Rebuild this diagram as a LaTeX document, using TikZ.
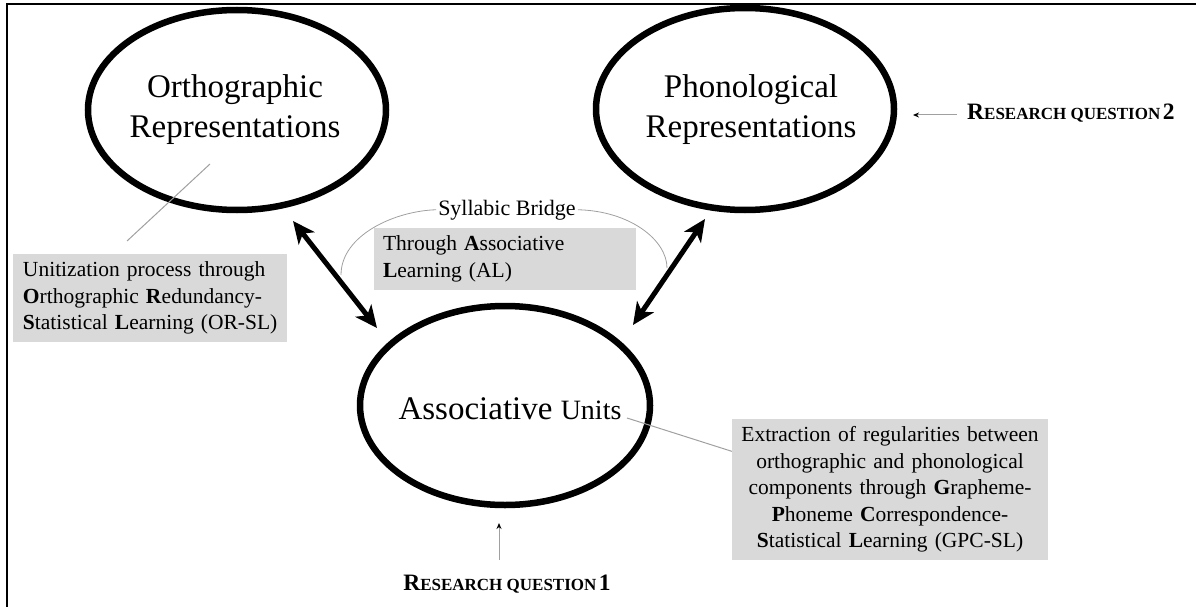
\documentclass[tikz,border=0pt]{standalone}
\usepackage{fontspec}
\setmainfont{Liberation Serif}
\usetikzlibrary{shapes.geometric,arrows.meta,calc}
\definecolor{boxgray}{RGB}{217,217,217}
\definecolor{thingray}{RGB}{160,160,160}
\tikzset{
  bigell/.style={draw=black, line width=6.5pt, ellipse, inner sep=0pt},
  elltext/.style={font=\fontsize{33}{40}\selectfont, align=center, inner sep=0pt},
  graybox/.style={fill=boxgray, inner ysep=0pt, font=\fontsize{21.5}{26.5}\selectfont},
  thickarrow/.style={line width=5pt, {Stealth[length=22pt,width=20pt,inset=6pt]}-{Stealth[length=22pt,width=20pt,inset=6pt]}},
  pointer/.style={draw=thingray, line width=1pt},
  rqarrow/.style={draw=thingray, line width=1pt, -{Stealth[length=6pt,width=5pt,black]}},
  rqtext/.style={inner sep=0pt},
}
\newcommand{\rqlabel}[1]{\textbf{{\fontsize{23.5}{26}\selectfont R}{\fontsize{17}{20}\selectfont ESEARCH QUESTION} {\fontsize{23.5}{26}\selectfont #1}}}
\begin{document}
\begin{tikzpicture}[x=1pt,y=-1pt]
\useasboundingbox (0,0) rectangle (1196,607);
% frame (top and left)
\draw[line width=2pt] (7,610) -- (7,4) -- (1200,4);

% ellipses
\node[bigell, minimum width=298pt, minimum height=200pt] (ortho) at (237,110) {};
\node[bigell, minimum width=298pt, minimum height=202pt] (phon) at (745,109) {};
\node[bigell, minimum width=290pt, minimum height=199pt] (assoc) at (505,405.5) {};

\node[elltext] (orthotext) at (235,109.5) {Orthographic\\Representations};
\node[elltext] (phontext) at (751,109.5) {Phonological\\Representations};
\node[inner sep=0pt, anchor=base] (assoctext) at (510,419) {{\fontsize{33}{40}\selectfont Associative\ }{\fontsize{28}{34}\selectfont Units}};

% gray boxes
\node[graybox, inner xsep=10pt, text width=254pt, minimum height=88pt, align=left] (orbox) at (150,298)
  {\mbox{Unitization process through}\\\mbox{\textbf{O}rthographic \textbf{R}edundancy-}\\\mbox{\textbf{S}tatistical \textbf{L}earning (OR-SL)}};
\node[graybox, inner xsep=9pt, text width=244pt, minimum height=62pt, align=left] (albox) at (505,259)
  {\mbox{Through \textbf{A}ssociative}\\\mbox{\textbf{L}earning (AL)}};
\node[graybox, inner xsep=0pt, text width=316pt, minimum height=141pt, align=center] (gpcbox) at (890,489.5)
  {\mbox{Extraction of regularities between}\\\mbox{orthographic and phonological}\\\mbox{components through \textbf{G}rapheme-}\\\mbox{\textbf{P}honeme \textbf{C}orrespondence-}\\\mbox{\textbf{S}tatistical \textbf{L}earning (GPC-SL)}};

% syllabic bridge
\node[inner xsep=2pt, inner ysep=0pt, font=\fontsize{22}{26}\selectfont, anchor=base] (sb) at (507,215) {Syllabic Bridge};
\coordinate (sbl) at (341,275);
\coordinate (sbr) at (667,268);
\draw[draw=thingray, line width=0.8pt] (sbl) .. controls (341,235) and (395,211) .. (sb.west);
\draw[draw=thingray, line width=0.8pt] (sb.east) .. controls (630,211) and (667,240) .. (sbr);

% thick double arrows
\coordinate (oa1) at (293,221);
\coordinate (oa2) at (377,328);
\coordinate (pa1) at (705,219);
\coordinate (pa2) at (633,325);
\draw[thickarrow] (oa1) -- (oa2);
\draw[thickarrow] (pa1) -- (pa2);

% pointer lines
\coordinate (orin) at (210,164);
\coordinate (orout) at (127,241);
\draw[pointer] (orin) -- (orout);
\coordinate (unitsend) at (627,418);
\draw[pointer] (unitsend) -- ($(gpcbox.north west)!0.23!(gpcbox.south west)$);

% research questions
\node[rqtext, anchor=base] (rq1) at (507,590) {\rqlabel{1}};
\node[rqtext, anchor=base west] (rq2) at (967,120) {\rqlabel{2}};
\coordinate (rq1s) at (499,560);
\coordinate (rq1e) at (499,523);
\draw[rqarrow] (rq1s) -- (rq1e);
\coordinate (rq2s) at (957,115);
\coordinate (rq2e) at (913,115);
\draw[rqarrow] (rq2s) -- (rq2e);
\end{tikzpicture}
\end{document}
